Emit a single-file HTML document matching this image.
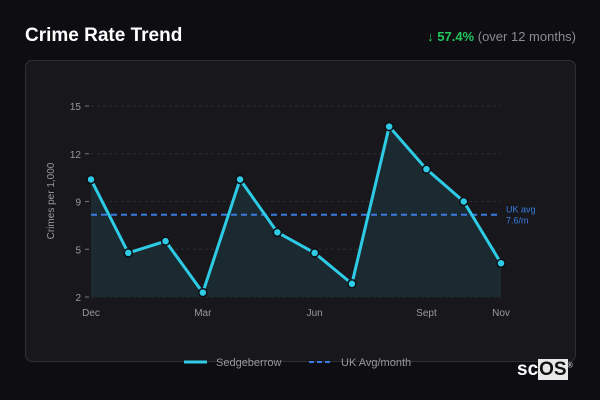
<!DOCTYPE html>
<html><head><meta charset="utf-8"><style>
body{margin:0;width:600px;height:400px;background:#0e0e12;font-family:"Liberation Sans","DejaVu Sans",sans-serif;overflow:hidden;position:relative}
#title{position:absolute;left:25px;top:25px;color:#fff;font-weight:bold;font-size:19px}
#change{position:absolute;right:24px;top:29px;font-size:13px;color:#8a8a92}
#change b{color:#22c55e}
#card{position:absolute;left:25px;top:60px;width:549px;height:300px;border:1px solid #2e2e34;border-radius:7px;background:#18181c}
svg{position:absolute;left:0;top:0}
#logo{position:absolute;left:517px;top:359px;font-size:19px;color:#fff;font-weight:bold}
#logo span{background:#e8e8e8;color:#111;padding:0 1px}
</style></head><body>
<div id="title">Crime Rate Trend</div>
<div id="change"><b>↓ 57.4%</b> (over 12 months)</div>
<div id="card"></div>
<svg id="chart" width="600" height="400"></svg>
<div id="logo">sc<span>OS</span><sup style="font-size:7px;color:#ccc">®</sup></div>
<script>
const months=["Dec","Jan","Feb","Mar","Apr","May","Jun","Jul","Aug","Sept","Oct","Nov"];
const values=[10.0,5.0,5.8,2.3,10.0,6.4,5.0,2.9,13.6,10.7,8.5,4.3];
const ukAvg=7.6;
const yTicks=[2,5.25,8.5,11.75,15];
const xLabelIdx=[0,3,6,9,11];
const yMin=2,yMax=15;
const x=i=>91+i*(410/(months.length-1));
const y=v=>297-(v-yMin)/(yMax-yMin)*191;
const svg=document.getElementById('chart');
const NS='http://www.w3.org/2000/svg';
function mk(t,a){const e=document.createElementNS(NS,t);for(const k in a)e.setAttribute(k,a[k]);svg.appendChild(e);return e;}
yTicks.forEach(t=>{
  const g=mk('line',{x1:91,x2:501,y1:y(t),y2:y(t),stroke:'#2c2c32','stroke-dasharray':'3,3'});
  
  
  const tk=mk('line',{x1:85,x2:89,y1:y(t),y2:y(t),stroke:'#777'});
  
  
  const l=mk('text',{x:81,y:y(t)+4,'text-anchor':'end',fill:'#999','font-size':10});
  l.textContent=Math.round(t);
  
  
});
xLabelIdx.forEach(i=>{
  const l=mk('text',{x:x(i),y:316,'text-anchor':'middle',fill:'#999','font-size':10});
  l.textContent=months[i];
  
  
});
const yt=mk('text',{x:0,y:0,transform:'translate(54,201) rotate(-90)','text-anchor':'middle',fill:'#999','font-size':10});
yt.textContent='Crimes per 1,000';


let pts=values.map((v,i)=>x(i)+','+y(v)).join(' ');
const area=mk('polygon',{points:x(0)+','+y(yMin)+' '+pts+' '+x(values.length-1)+','+y(yMin),fill:'#1b2a30'});


const avg=mk('line',{x1:91,x2:497,y1:y(ukAvg),y2:y(ukAvg),stroke:'#3b7be0','stroke-width':2,'stroke-dasharray':'6,4'});


const al=mk('text',{x:506,y:y(ukAvg)-2,fill:'#3b7be0','font-size':9});
al.textContent='UK avg';


const al2=mk('text',{x:506,y:y(ukAvg)+9,fill:'#3b7be0','font-size':9});
al2.textContent=ukAvg+'/m';


const line=mk('polyline',{points:pts,fill:'none',stroke:'#2ecbe6','stroke-width':3,'stroke-linejoin':'round'});


values.forEach((v,i)=>{
  const c=mk('circle',{cx:x(i),cy:y(v),r:4,fill:'#2ecbe6',stroke:'#0e0e12','stroke-width':1.5});
  
  
});
const l1=mk('line',{x1:184,x2:207,y1:362,y2:362,stroke:'#2ecbe6','stroke-width':3});


const t1=mk('text',{x:216,y:366,fill:'#999','font-size':11});
t1.textContent='Sedgeberrow';


const l2=mk('line',{x1:309,x2:333,y1:362,y2:362,stroke:'#3b7be0','stroke-width':2,'stroke-dasharray':'5,3'});


const t2=mk('text',{x:341,y:366,fill:'#999','font-size':11});
t2.textContent='UK Avg/month';


</script>
</body></html>
